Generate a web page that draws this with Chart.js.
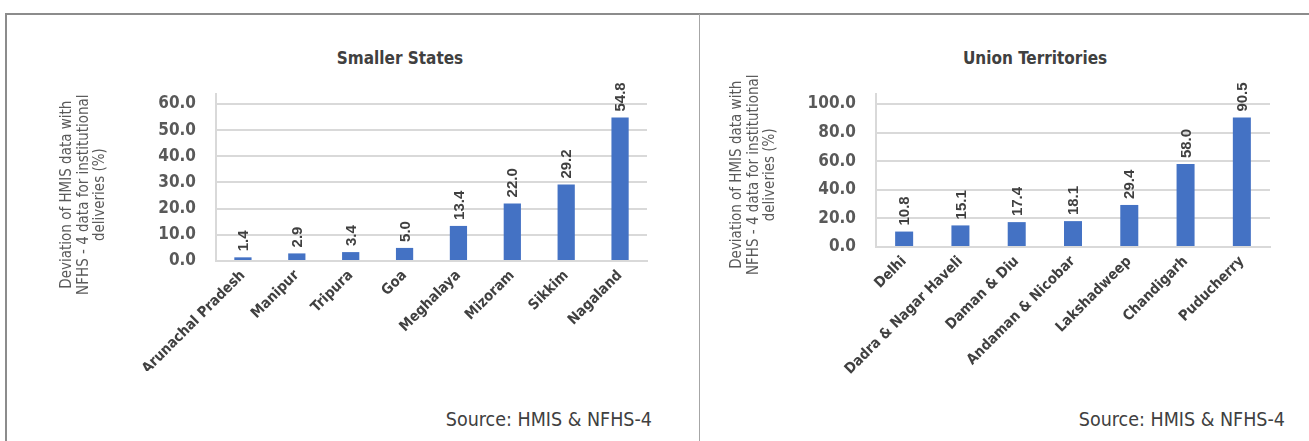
<!DOCTYPE html>
<html>
<head>
<meta charset="utf-8">
<script src="https://cdn.jsdelivr.net/npm/chart.js@4.4.0/dist/chart.umd.min.js"></script>
<style>
  body { margin: 0; width: 1309px; height: 441px; background: #fff; position: relative; overflow: hidden; }
  .line { position: absolute; background: #8c8c8c; }
  .title, .source { position: absolute; color: #404040; white-space: nowrap;
    font-family: "DejaVu Sans Condensed", sans-serif; }
  .title { font-weight: bold; font-size: 17px; transform: translateX(-50%); }
  .source { font-size: 19.5px; }
  canvas { position: absolute; }
</style>
</head>
<body>
<div class="line" style="left:5px;top:13px;width:1304px;height:2px"></div>
<div class="line" style="left:5px;top:13px;width:2px;height:428px"></div>
<div class="line" style="left:699px;top:14px;width:1px;height:427px;background:#a6a6a6"></div>

<div class="title" style="left:400px;top:48px">Smaller States</div>
<div class="title" style="left:1035px;top:48px">Union Territories</div>
<div class="source" style="right:657px;top:408px">Source: HMIS &amp; NFHS-4</div>
<div class="source" style="right:24px;top:408px">Source: HMIS &amp; NFHS-4</div>

<canvas id="statesChart" width="688" height="380" style="left:8px;top:16px"></canvas>
<canvas id="utChart" width="604" height="380" style="left:701px;top:16px"></canvas>

<script>
// Data
const stateNames = ["Arunachal Pradesh", "Manipur", "Tripura", "Goa", "Meghalaya", "Mizoram", "Sikkim", "Nagaland"];
const stateDeviation = [1.4, 2.9, 3.4, 5.0, 13.4, 22.0, 29.2, 54.8];
const utNames = ["Delhi", "Dadra & Nagar Haveli", "Daman & Diu", "Andaman & Nicobar", "Lakshadweep", "Chandigarh", "Puducherry"];
const utDeviation = [10.8, 15.1, 17.4, 18.1, 29.4, 58.0, 90.5];
const yTitle = ["Deviation of HMIS data with", "NFHS - 4 data for institutional", "deliveries (%)"];

const narrow = '"DejaVu Sans Condensed", sans-serif';

// vertical value labels above each bar
const barLabels = {
  id: "barLabels",
  afterDatasetsDraw(chart) {
    const ctx = chart.ctx;
    const values = chart.data.datasets[0].data;
    ctx.save();
    ctx.font = 'bold 15px "Liberation Sans", Arial, sans-serif';
    ctx.fillStyle = "#404040";
    ctx.textAlign = "left";
    ctx.textBaseline = "middle";
    chart.getDatasetMeta(0).data.forEach((bar, i) => {
      ctx.save();
      ctx.translate(bar.x + 1, bar.y - 6);
      ctx.rotate(-Math.PI / 2);
      ctx.fillText(values[i].toFixed(1), 0, 0);
      ctx.restore();
    });
    ctx.restore();
  }
};

// pad the axis title lines so they sit a bit lower, like the original
function padLines(lines, n) {
  return lines.map(l => l + "\u00a0".repeat(n));
}

function makeChart(id, labels, values, yMax, step, yWidth, xHeight, padding, titleShift) {
  return new Chart(document.getElementById(id), {
    type: "bar",
    data: {
      labels: labels,
      datasets: [{
        data: values,
        backgroundColor: "#4472c4",
        barPercentage: 0.8,
        categoryPercentage: 0.4
      }]
    },
    options: {
      responsive: false,
      animation: false,
      layout: { padding: padding },
      plugins: { legend: { display: false }, tooltip: { enabled: false } },
      scales: {
        x: {
          grid: { display: false, drawTicks: false },
          border: { color: "#d9d9d9", width: 2 },
          ticks: {
            minRotation: 45, maxRotation: 45, padding: 6, autoSkip: false,
            color: "#404040", font: { family: narrow, size: 14.5, weight: "bold" }
          },
          afterFit: s => { s.height = xHeight; }
        },
        y: {
          min: 0, max: yMax,
          grid: { color: "#d9d9d9", lineWidth: 2, drawTicks: false },
          border: { color: "#d9d9d9", width: 2 },
          ticks: {
            stepSize: step, includeBounds: false, padding: 20,
            color: "#595959", font: { family: narrow, size: 17, weight: "bold" },
            callback: v => v.toFixed(1)
          },
          title: {
            display: true, text: padLines(yTitle, titleShift), color: "#595959", padding: 0,
            font: { family: narrow, size: 15, lineHeight: 1.1 }
          },
          afterFit: s => { s.width = yWidth; }
        }
      }
    },
    plugins: [barLabels]
  });
}

makeChart("statesChart", stateNames, stateDeviation, 63.8, 10, 157, 110,
  { left: 51, right: 49, top: 78, bottom: 25 }, 8);
makeChart("utChart", utNames, utDeviation, 107, 20, 147, 130,
  { left: 28, right: 35, top: 78, bottom: 19 }, 2);
</script>
</body>
</html>
